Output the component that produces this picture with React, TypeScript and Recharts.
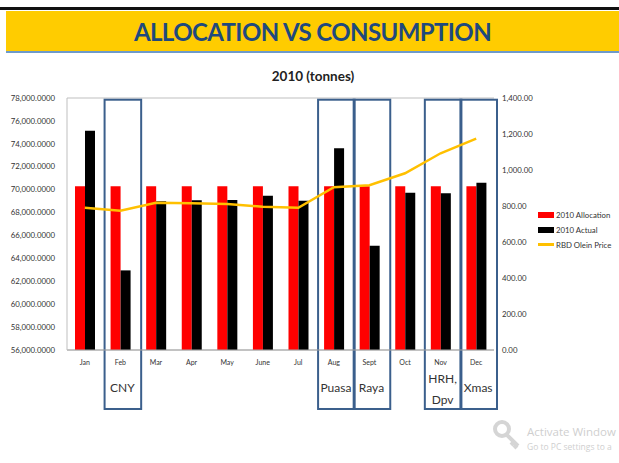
import React from 'react';
import {
  ComposedChart, Bar, Line, XAxis, YAxis, CartesianGrid, Legend, ReferenceArea,
} from 'recharts';

const months = ['Jan', 'Feb', 'Mar', 'Apr', 'May', 'June', 'Jul', 'Aug', 'Sept', 'Oct', 'Nov', 'Dec'];
const allocation = [70300, 70300, 70300, 70300, 70300, 70300, 70300, 70300, 70300, 70300, 70300, 70300];
const actual = [75150, 62950, 68980, 69070, 69100, 69470, 69030, 73610, 65100, 69730, 69680, 70600];
const oleinPrice = [790, 774, 818, 815, 811, 796, 790, 904, 915, 982, 1093, 1174];

const leftTicks = [56000, 58000, 60000, 62000, 64000, 66000, 68000, 70000, 72000, 74000, 76000, 78000];
const rightTicks = [0, 200, 400, 600, 800, 1000, 1200, 1400];

// festive season boxes: month + label lines
const festiveMonths = ['Feb', 'Aug', 'Sept', 'Nov', 'Dec'];
const festiveLabels = [['CNY'], ['Puasa'], ['Raya'], ['HRH,', 'Dpv'], ['Xmas']];

const data = months.map((m, i) => ({
  month: m,
  allocation: allocation[i],
  actual: actual[i],
  price: oleinPrice[i],
}));

const FONT = 'Lato, "Open Sans", sans-serif';
const BOX = '#3B5F8C';

const fmtLeft = (v: number) =>
  v.toLocaleString('en-US', { minimumFractionDigits: 4, maximumFractionDigits: 4 });
const fmtRight = (v: number) =>
  v.toLocaleString('en-US', { minimumFractionDigits: 2, maximumFractionDigits: 2 });

const FestiveBox = (props: any) => {
  const { x, y, width, height, lines } = props;
  const cx = x + width / 2;
  const bottom = y + height;
  return (
    <g>
      <rect x={x + 2} y={y} width={width + 1} height={height} fill="none" stroke={BOX} strokeWidth={2} />
      {lines.map((t: string, i: number) => (
        <text
          key={t}
          x={cx + 2}
          y={bottom - (lines.length > 1 ? 26 : 17) + i * 21}
          textAnchor="middle"
          fontSize={12}
          fontFamily={FONT}
          fill="#333"
        >
          {t}
        </text>
      ))}
    </g>
  );
};

const LegendContent = () => {
  const items = [
    { name: '2010 Allocation', color: '#FF0000', kind: 'bar' },
    { name: '2010 Actual', color: '#000000', kind: 'bar' },
    { name: 'RBD Olein Price', color: '#FFC000', kind: 'line' },
  ];
  return (
    <div style={{ fontFamily: FONT, fontSize: 7.8, color: '#333' }}>
      {items.map((it) => (
        <div key={it.name} style={{ display: 'flex', alignItems: 'center', height: 15 }}>
          {it.kind === 'bar' ? (
            <span style={{ width: 16, height: 6, background: it.color, display: 'inline-block', marginRight: 2 }} />
          ) : (
            <span style={{ width: 16, height: 3, background: it.color, display: 'inline-block', marginRight: 2 }} />
          )}
          <span>{it.name}</span>
        </div>
      ))}
    </div>
  );
};

export default function App() {
  return (
    <div style={{ position: 'absolute', left: 0, top: 0, width: 619, height: 463, background: '#fff', overflow: 'hidden' }}>
      {/* header band */}
      <div style={{ position: 'absolute', left: 0, top: 7, width: 619, height: 3, background: '#111' }} />
      <div
        style={{
          position: 'absolute', left: 6, top: 11, width: 613, height: 40, background: '#FFCC00',
          borderBottom: '2px solid #6E9BCB', display: 'flex', alignItems: 'center', justifyContent: 'center',
        }}
      >
        <span style={{ fontFamily: FONT, fontWeight: 700, fontSize: 24, color: '#1F497D', letterSpacing: -0.6 }}>
          ALLOCATION VS CONSUMPTION
        </span>
      </div>
      <div
        style={{
          position: 'absolute', left: 213, top: 68, width: 200, textAlign: 'center',
          fontFamily: FONT, fontWeight: 700, fontSize: 13.5, color: '#222',
        }}
      >
        2010 (tonnes)
      </div>

      <div style={{ position: 'absolute', left: 0, top: 0 }}>
        <ComposedChart
          width={619}
          height={463}
          data={data}
          margin={{ top: 98, right: 65, left: 7, bottom: 93 }}
          barGap={0}
        >
          <CartesianGrid vertical={false} stroke="#BFBFBF" />
          <XAxis
            dataKey="month"
            height={20}
            tickLine={false}
            axisLine={{ stroke: '#A6A6A6' }}
            tick={{ fontSize: 7, fill: '#333', fontFamily: FONT }}
            interval={0}
            tickMargin={4}
          />
          <YAxis
            yAxisId="left"
            width={60}
            domain={[56000, 78000]}
            ticks={leftTicks}
            tickFormatter={fmtLeft}
            tickLine={false}
            axisLine={{ stroke: '#BFBFBF' }}
            tick={{ fontSize: 7.8, fill: '#333', fontFamily: FONT }}
            tickMargin={6}
            allowDataOverflow
          />
          <YAxis
            yAxisId="right"
            orientation="right"
            width={60}
            domain={[0, 1400]}
            ticks={rightTicks}
            tickFormatter={fmtRight}
            tickLine={false}
            axisLine={false}
            tick={{ fontSize: 7.8, fill: '#333', fontFamily: FONT, textAnchor: 'start' }}
            tickMargin={2}
          />
          <Bar yAxisId="left" dataKey="allocation" name="2010 Allocation" fill="#FF0000" barSize={10} isAnimationActive={false} />
          <Bar yAxisId="left" dataKey="actual" name="2010 Actual" fill="#000000" barSize={10} isAnimationActive={false} />
          <Line
            yAxisId="right"
            dataKey="price"
            name="RBD Olein Price"
            stroke="#FFC000"
            strokeWidth={2.5}
            dot={false}
            type="linear"
            isAnimationActive={false}
          />
          {festiveMonths.map((m, i) => (
            <ReferenceArea
              key={m}
              yAxisId="left"
              x1={m}
              x2={m}
              y1={50850}
              y2={77850}
              ifOverflow="visible"
              shape={(p: any) => <FestiveBox {...p} lines={festiveLabels[i]} />}
            />
          ))}
          <Legend
            layout="vertical"
            align="center"
            verticalAlign="middle"
            content={<LegendContent />}
            wrapperStyle={{ left: 538, top: 207, width: 85 }}
          />
        </ComposedChart>
      </div>

      {/* OS watermark captured in the screenshot (clipped at the right edge in the original) */}
      <div style={{ position: 'absolute', left: 527, top: 423, fontFamily: '"Open Sans", sans-serif', color: '#CFCFCF', whiteSpace: 'nowrap' }}>
        <div style={{ fontSize: 11.5, lineHeight: '18px' }}>Activate Window</div>
        <div style={{ fontSize: 8.5, lineHeight: '11px' }}>Go to PC settings to a</div>
      </div>
      <svg style={{ position: 'absolute', left: 492, top: 420 }} width={30} height={30}>
        <circle cx={10} cy={9} r={7} fill="none" stroke="#D5D5D5" strokeWidth={4} />
        <path d="M14 14 L26 26 M22 22 L19 25 M25 25 L22 28" stroke="#D5D5D5" strokeWidth={4} />
      </svg>
    </div>
  );
}
